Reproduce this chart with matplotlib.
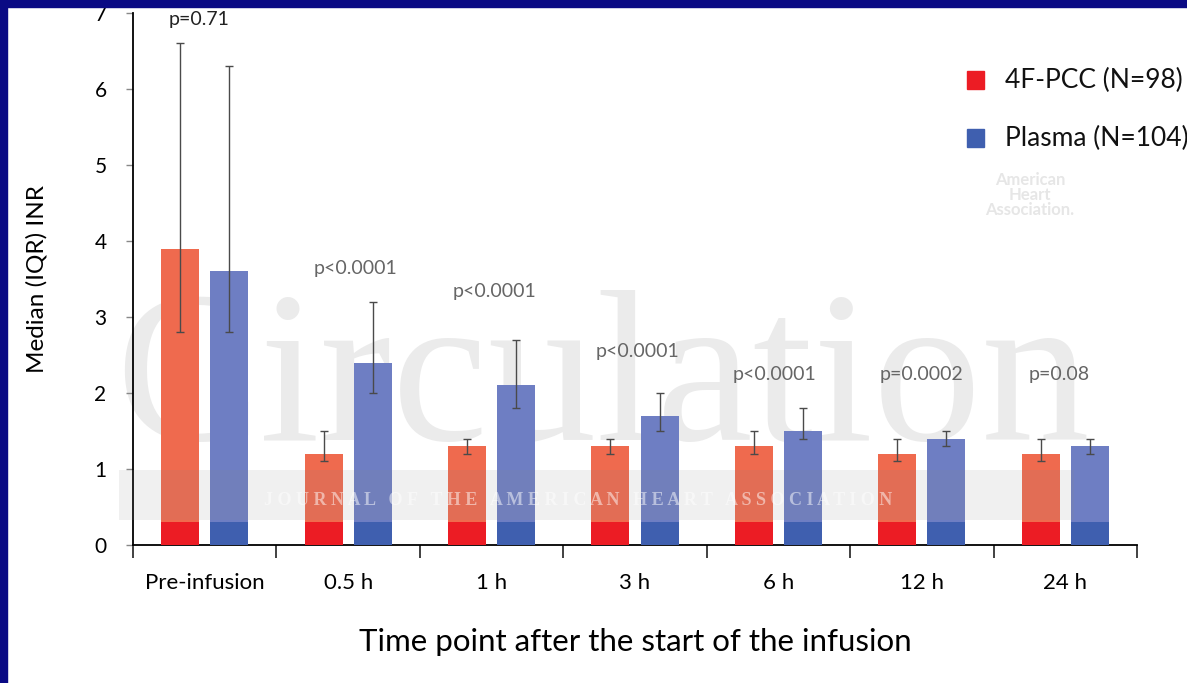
import matplotlib
matplotlib.use("Agg")
import matplotlib.pyplot as plt
from matplotlib.patches import Rectangle
import numpy as np

categories = ["Pre-infusion", "0.5 h", "1 h", "3 h", "6 h", "12 h", "24 h"]
pcc_median = [3.9, 1.2, 1.3, 1.3, 1.3, 1.2, 1.2]
pcc_q1 = [2.8, 1.1, 1.2, 1.2, 1.2, 1.1, 1.1]
pcc_q3 = [6.6, 1.5, 1.4, 1.4, 1.5, 1.4, 1.4]
plasma_median = [3.6, 2.4, 2.1, 1.7, 1.5, 1.4, 1.3]
plasma_q1 = [2.8, 2.0, 1.8, 1.5, 1.4, 1.3, 1.2]
plasma_q3 = [6.3, 3.2, 2.7, 2.0, 1.8, 1.5, 1.4]
p_labels = ["p=0.71", "p<0.0001", "p<0.0001", "p<0.0001", "p<0.0001", "p=0.0002", "p=0.08"]
p_label_x = [-0.04, 1.05, 2.02, 3.02, 3.97, 5.0, 5.96]
p_label_y = [6.92, 3.64, 3.34, 2.55, 2.24, 2.24, 2.24]
legend_labels = ["4F-PCC (N=98)", "Plasma (N=104)"]

FONT = ["Lato", "DejaVu Sans"]
plt.rcParams['font.family'] = FONT

fig = plt.figure(figsize=(11.87, 6.83), dpi=100)
fig.patch.set_facecolor("white")
# navy frame strips (top and left)
fig.patches.append(Rectangle((0, 1 - 7/683), 1, 7/683, transform=fig.transFigure,
                             color="#0A0A84", zorder=10))
fig.patches.append(Rectangle((0, 0), 7/1187, 1, transform=fig.transFigure,
                             color="#0A0A84", zorder=10))

ax = fig.add_axes([133/1187, 138/683, (1137-133)/1187, (670-138)/683])
ax.set_xlim(-0.5, 6.5)
ax.set_ylim(0, 7)

x = np.arange(len(categories))
w = 0.265
off = 0.171

# watermarks
ax.text(2.77, 1.38, "Circulation", fontsize=156, family="Liberation Serif",
        color="#EBEBEB", ha="center", va="baseline", zorder=0)
fig.text(1030/1187, 1 - 195/683, "American\nHeart\nAssociation.", fontsize=12,
         color="#E6E6E6", ha="center", va="center", fontweight="bold",
         linespacing=0.9, zorder=0)

red_light, red_dark = "#EF6A4E", "#EC1C24"
blue_light, blue_dark = "#6E7EC3", "#3F5FAF"

ax.bar(x - off, pcc_median, w, color=red_light, zorder=2)
ax.bar(x + off, plasma_median, w, color=blue_light, zorder=2)
ax.bar(x - off, [0.3] * len(x), w, color=red_dark, zorder=3)
ax.bar(x + off, [0.3] * len(x), w, color=blue_dark, zorder=3)

pm = np.array(pcc_median); bm = np.array(plasma_median)
ax.errorbar(x - off, pm, yerr=[pm - np.array(pcc_q1), np.array(pcc_q3) - pm],
            fmt="none", ecolor="#4A4A4A", elinewidth=1.0, capsize=3.2, capthick=1.0, zorder=4)
ax.errorbar(x + off, bm, yerr=[bm - np.array(plasma_q1), np.array(plasma_q3) - bm],
            fmt="none", ecolor="#4A4A4A", elinewidth=1.0, capsize=3.2, capthick=1.0, zorder=4)

# journal band watermark
ax.add_patch(Rectangle((-0.6, 0.33), 6.66, 0.66, color="#888888", alpha=0.12,
                       zorder=5, clip_on=False, linewidth=0))
ax.text(2.6, 0.58, "J O U R N A L   O F   T H E   A M E R I C A N   H E A R T   A S S O C I A T I O N",
        fontsize=13, color="white", alpha=0.5, ha="center", va="center",
        fontweight="bold", family="Liberation Serif", zorder=5)

for i, (lab, xx, yy) in enumerate(zip(p_labels, p_label_x, p_label_y)):
    ax.text(xx, yy, lab, ha="center", va="center", fontsize=14,
            color="#222222" if i == 0 else "#666666", zorder=6)

ax.spines["top"].set_visible(False)
ax.spines["right"].set_visible(False)
ax.spines["left"].set_linewidth(1.3)
ax.spines["bottom"].set_linewidth(1.3)

ax.set_yticks(range(0, 8))
ax.set_yticklabels([str(v) for v in range(0, 8)], fontsize=15)
ax.tick_params(axis="y", length=5, width=1, color="#888888", pad=14)

ax.set_xticks(x)
ax.set_xticklabels(categories, fontsize=16)
ax.tick_params(axis="x", length=0, pad=20)
ax.set_xticks(np.arange(-0.5, 7, 1), minor=True)
ax.tick_params(axis="x", which="minor", length=9, width=1.3, color="#333333")

ax.set_xlabel("Time point after the start of the infusion", fontsize=22.5, labelpad=25)
ax.set_ylabel("Median (IQR) INR", fontsize=17.5, labelpad=34)

# legend
for i, (lab, col) in enumerate(zip(legend_labels, [red_dark, blue_dark])):
    yy = 1 - (80 + i * 58) / 683
    fig.patches.append(Rectangle((967/1187, yy - 8.5/683), 17/1187, 17/683,
                                 transform=fig.transFigure, color=col))
    fig.text(1005/1187, yy, lab, fontsize=19, va="center", ha="left", color="#111111")

fig.savefig("out.png", dpi=100)
